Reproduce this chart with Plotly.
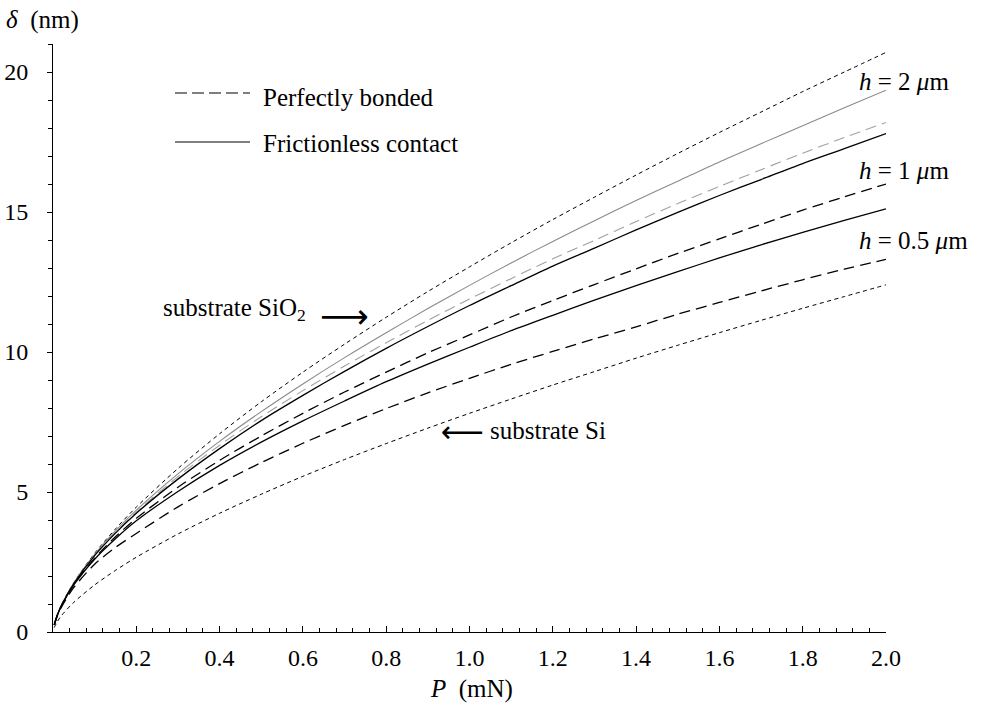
import plotly.graph_objects as go

# ---- data ----
P = [0.003, 0.01, 0.02, 0.05, 0.1, 0.15, 0.2, 0.3, 0.4, 0.5, 0.6, 0.7, 0.8, 0.9, 1.0,
     1.1, 1.2, 1.3, 1.4, 1.5, 1.6, 1.7, 1.8, 1.9, 2.0]

sub_sio2 = [0.27, 0.60, 0.96, 1.77, 2.81, 3.68, 4.46, 5.84, 7.08, 8.22, 9.28, 10.28, 11.24, 12.16, 13.04,
            13.90, 14.73, 15.53, 16.32, 17.09, 17.84, 18.57, 19.30, 20.00, 20.70]
sub_si = [0.16, 0.36, 0.58, 1.06, 1.68, 2.20, 2.67, 3.50, 4.24, 4.92, 5.56, 6.16, 6.73, 7.28, 7.81,
          8.32, 8.82, 9.30, 9.78, 10.24, 10.69, 11.13, 11.56, 11.98, 12.40]

h2_frictionless = [0.26, 0.59, 0.95, 1.75, 2.77, 3.61, 4.35, 5.65, 6.81, 7.87, 8.86, 9.80, 10.69, 11.55, 12.38,
                   13.18, 13.95, 14.69, 15.41, 16.10, 16.79, 17.44, 18.08, 18.72, 19.35]
h2_bonded = [0.26, 0.59, 0.95, 1.74, 2.74, 3.56, 4.28, 5.55, 6.67, 7.69, 8.62, 9.50, 10.33, 11.13, 11.89,
             12.62, 13.33, 13.99, 14.66, 15.30, 15.91, 16.51, 17.10, 17.66, 18.20]
h1_frictionless = [0.26, 0.59, 0.94, 1.73, 2.73, 3.53, 4.24, 5.46, 6.55, 7.55, 8.45, 9.31, 10.13, 10.91, 11.66,
                   12.37, 13.07, 13.71, 14.36, 14.99, 15.59, 16.16, 16.73, 17.26, 17.80]
h1_bonded = [0.26, 0.58, 0.93, 1.70, 2.64, 3.40, 4.06, 5.17, 6.13, 7.00, 7.81, 8.57, 9.28, 9.97, 10.61,
             11.25, 11.84, 12.41, 12.97, 13.52, 14.04, 14.56, 15.07, 15.54, 16.00]
h05_frictionless = [0.26, 0.58, 0.92, 1.68, 2.60, 3.33, 3.97, 5.02, 5.95, 6.78, 7.54, 8.25, 8.94, 9.57, 10.17,
                    10.76, 11.31, 11.85, 12.37, 12.87, 13.36, 13.83, 14.27, 14.70, 15.11]
h05_bonded = [0.25, 0.56, 0.88, 1.59, 2.42, 3.02, 3.52, 4.47, 5.30, 6.05, 6.74, 7.38, 7.98, 8.54, 9.06,
              9.56, 10.02, 10.47, 10.90, 11.35, 11.77, 12.18, 12.58, 12.96, 13.31]

x_ticks = [0.2, 0.4, 0.6, 0.8, 1.0, 1.2, 1.4, 1.6, 1.8, 2.0]
x_tick_text = ["0.2", "0.4", "0.6", "0.8", "1.0", "1.2", "1.4", "1.6", "1.8", "2.0"]
y_ticks = [0, 5, 10, 15, 20]

SERIF = "Liberation Serif, Times New Roman, serif"

series = [
    (sub_sio2, "black", 1.0, "4px,3.5px", "substrate SiO2"),
    (h2_frictionless, "#8a8a8a", 1.1, "solid", "h=2 frictionless"),
    (h2_bonded, "#a0a0a0", 1.1, "11px,6px", "h=2 bonded"),
    (h1_frictionless, "black", 1.3, "solid", "h=1 frictionless"),
    (h1_bonded, "black", 1.3, "11px,6px", "h=1 bonded"),
    (h05_frictionless, "black", 1.3, "solid", "h=0.5 frictionless"),
    (h05_bonded, "black", 1.3, "11px,6px", "h=0.5 bonded"),
    (sub_si, "black", 1.0, "4px,3.5px", "substrate Si"),
]

fig = go.Figure()
for ys, col, w, dash, name in series:
    fig.add_trace(go.Scatter(x=P, y=ys, mode="lines", name=name,
                             line=dict(color=col, width=w, dash=dash, shape="spline", smoothing=0.8),
                             showlegend=False, hoverinfo="skip"))

# page-pixel -> paper coordinates (plot area spans page x 53..886, y 44..632)
def px2x(px):
    return (px - 53) / 833.0

def py2y(py):
    return (632 - py) / 588.0

shapes = [
    dict(type="line", xref="paper", yref="paper", x0=px2x(175), x1=px2x(250), y0=py2y(93), y1=py2y(93),
         line=dict(color="black", width=1.1, dash="12px,5px")),
    dict(type="line", xref="paper", yref="paper", x0=px2x(175), x1=px2x(250), y0=py2y(142), y1=py2y(142),
         line=dict(color="black", width=1.1)),
]

FS = 25
ann = []
def add_text(text, px, py, xanchor="left", size=FS, family=SERIF):
    ann.append(dict(text=text, x=px2x(px), y=py2y(py), xref="paper", yref="paper",
                    xanchor=xanchor, yanchor="middle", showarrow=False,
                    font=dict(family=family, size=size, color="black")))

add_text("Perfectly bonded", 261, 97)
add_text("Frictionless contact", 261, 143)
add_text("<i>h</i> = 2 <i>μ</i>m", 857, 81)
add_text("<i>h</i> = 1 <i>μ</i>m", 857, 170)
add_text("<i>h</i> = 0.5 <i>μ</i>m", 857, 240)
add_text("substrate SiO<sub>2</sub>", 161, 310)
add_text("⟶", 344, 316, xanchor="center", size=34, family="DejaVu Sans")
add_text("substrate Si", 488, 430)
add_text("⟵", 462, 431, xanchor="center", size=30, family="DejaVu Sans")
add_text("<i>δ</i>  (nm)", 4, 20)
add_text("<i>P</i>  (mN)", 472, 689, xanchor="center")

fig.update_layout(
    width=991, height=704,
    margin=dict(l=53, r=105, t=44, b=72, autoexpand=False),
    paper_bgcolor="white", plot_bgcolor="white",
    font=dict(family=SERIF, size=24, color="black"),
    shapes=shapes, annotations=ann,
    xaxis=dict(range=[0, 2.0], showgrid=False, zeroline=False, showline=True, linecolor="black", linewidth=1,
               automargin=False,
               tickmode="array", tickvals=x_ticks, ticktext=x_tick_text,
               ticks="inside", ticklen=6, tickcolor="black", tickwidth=1,
               ticklabelstandoff=4,
               minor=dict(dtick=0.04, tick0=0, ticks="inside", ticklen=4, tickcolor="black", showgrid=False),
               tickfont=dict(family=SERIF, size=24)),
    yaxis=dict(range=[0, 21], showgrid=False, zeroline=False, showline=True, linecolor="black", linewidth=1,
               automargin=False,
               tickmode="array", tickvals=y_ticks,
               ticks="outside", ticklen=5, tickcolor="black", tickwidth=1,
               ticklabelstandoff=14,
               minor=dict(dtick=1, tick0=0, ticks="outside", ticklen=4, tickcolor="black", showgrid=False),
               tickfont=dict(family=SERIF, size=24)),
)

# remove the default 8px body margin so the figure fills the window exactly
fig.write_html("out.html",
               config={"displayModeBar": False},
               post_script="document.body.style.margin='0';document.body.style.overflow='hidden';")
